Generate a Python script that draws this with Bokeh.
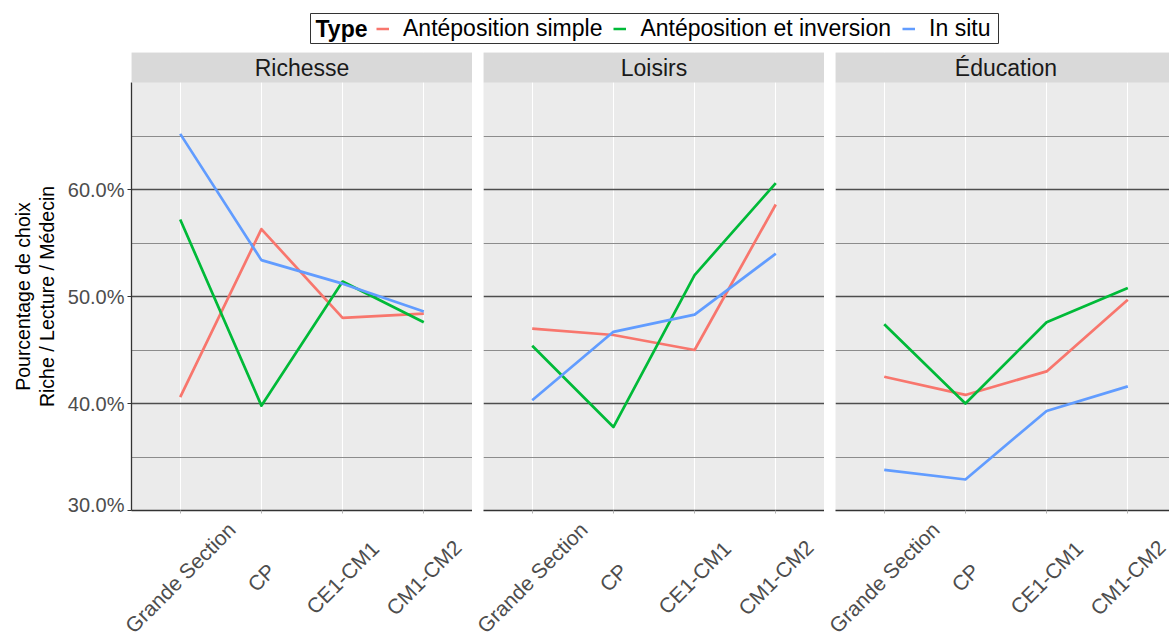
import math
from bokeh.plotting import figure
from bokeh.layouts import column, row
from bokeh.core.properties import value
from bokeh.models import (Range1d, FixedTicker, Grid, LinearAxis, PrintfTickFormatter,
                          BoxAnnotation, Label, Legend, LegendItem)
from bokeh.embed import file_html
from bokeh.resources import INLINE

# ---------------- data ----------------
categories = ["Grande Section", "CP", "CE1-CM1", "CM1-CM2"]
panels = ["Richesse", "Loisirs", "Éducation"]
series = ["Antéposition simple", "Antéposition et inversion", "In situ"]
colors = ["#F8766D", "#00BA38", "#619CFF"]

richesse_simple = [40.6, 56.3, 48.0, 48.4]
richesse_inversion = [57.2, 39.8, 51.4, 47.6]
richesse_insitu = [65.2, 53.4, 51.2, 48.6]

loisirs_simple = [47.0, 46.4, 45.0, 58.6]
loisirs_inversion = [45.4, 37.8, 52.0, 60.6]
loisirs_insitu = [40.3, 46.7, 48.3, 54.0]

education_simple = [42.5, 40.8, 43.0, 49.7]
education_inversion = [47.4, 40.0, 47.6, 50.8]
education_insitu = [33.8, 32.9, 39.3, 41.6]

y_ticks = [30, 40, 50, 60]
y_minor_ticks = [35, 45, 55, 65]
y_limits = (30, 70)
y_title_lines = ["Pourcentage de choix", "Riche / Lecture / Médecin"]
legend_title = "Type"

panel_data = [
    [richesse_simple, richesse_inversion, richesse_insitu],
    [loisirs_simple, loisirs_inversion, loisirs_insitu],
    [education_simple, education_inversion, education_insitu],
]

# ---------------- layout constants ----------------
FONT = "Liberation Sans"
PAGE_W = 1169
PANEL_H = 428           # data area height (30% -> 70%)
STRIP_H = 30            # facet strip height
FULL_W = 341            # full facet width
AXIS_B = 5              # space under panels for the axis ticks
LABEL_H = 124           # height of the rotated-label band
LABEL_DROP = 62         # centre of rotated labels below the band top
TITLE_W = 60            # band holding the y title
LINE_W = 2.7
x_pos = list(range(1, len(categories) + 1))
x_start = 1 - 0.6
x_full_end = len(categories) + 0.6
unit_px = FULL_W / (x_full_end - x_start)
frame_widths = [341, 341, 334]
borders_left = [71, 11, 11]
label_ext_left = [24, 15, 14]     # label band reaches this far left of the panel
label_trim_right = [4, 3, 0]      # and stops this much short of the panel's right edge
y_top = y_limits[1] + (y_limits[1] - y_limits[0]) * STRIP_H / PANEL_H
y_mid = (y_limits[0] + y_limits[1]) / 2


def fig(**kw):
    base = dict(toolbar_location=None, output_backend="svg",
                x_axis_location=None, y_axis_location=None,
                min_border_left=0, min_border_right=0, min_border_top=0, min_border_bottom=0,
                outline_line_color=None, background_fill_color="white",
                border_fill_color="white")
    base.update(kw)
    p = figure(**base)
    p.grid.visible = False
    return p

# ---------------- legend (framed box) ----------------
BOX_L, BOX_W, BOX_H = 310, 688, 30
leg = fig(frame_width=BOX_W, frame_height=BOX_H,
          x_range=Range1d(0, BOX_W), y_range=Range1d(0, BOX_H),
          min_border_left=BOX_L, min_border_right=PAGE_W - BOX_L - BOX_W,
          min_border_top=13, min_border_bottom=9,
          outline_line_color="#333333", outline_line_width=1)
leg.add_layout(Label(x=5, y=BOX_H / 2, text=legend_title, text_baseline="middle",
                     text_align="left", text_font=FONT, text_font_size="23px",
                     text_font_style="bold", text_color="black"))
items = []
for s, c in zip(series, colors):
    r = leg.line(x=[float("nan")], y=[float("nan")], line_color=c, line_width=LINE_W)
    items.append(LegendItem(label=s, renderers=[r]))
legend = Legend(items=items, orientation="horizontal", location="left",
                label_text_font=FONT, label_text_font_size="23px", label_text_color="black",
                label_standoff=14, glyph_width=13, glyph_height=20, spacing=11,
                padding=0, margin=66, border_line_color=None,
                background_fill_alpha=0)
leg.add_layout(legend)

# ---------------- y title band ----------------
y_range_main = Range1d(y_limits[0], y_top)
tf = fig(frame_width=TITLE_W, frame_height=PANEL_H + STRIP_H, min_border_bottom=AXIS_B,
         x_range=Range1d(0, TITLE_W), y_range=y_range_main)
tf.text(x=[22, 46], y=[y_mid, y_mid], text=y_title_lines, angle=math.pi / 2,
        text_align="center", text_baseline="middle",
        text_font=value(FONT), text_font_size=value("19.5px"), text_color="black")

# ---------------- facet panels ----------------
figs = [tf]
label_figs = []
for i, (name, data) in enumerate(zip(panels, panel_data)):
    fw = frame_widths[i]
    x_end = x_start + fw / unit_px
    p = fig(frame_width=fw, frame_height=PANEL_H + STRIP_H,
            x_range=Range1d(x_start, x_end),
            y_range=y_range_main if i == 0 else Range1d(y_limits[0], y_top),
            min_border_left=borders_left[i], min_border_bottom=AXIS_B,
            background_fill_color="#EBEBEB")

    # grids
    p.add_layout(Grid(dimension=0, ticker=FixedTicker(ticks=x_pos, minor_ticks=[]),
                      grid_line_color="white", grid_line_width=1.1))
    p.add_layout(Grid(dimension=1, ticker=FixedTicker(ticks=y_ticks[1:], minor_ticks=y_minor_ticks),
                      grid_line_color="#4D4D4D", grid_line_width=1.3,
                      minor_grid_line_color="#8C8C8C", minor_grid_line_width=1.1))

    # x axis line + ticks (category labels drawn in the band below)
    xaxis = LinearAxis(ticker=FixedTicker(ticks=x_pos, minor_ticks=[]),
                       major_label_text_color=None, major_label_text_font_size="0px",
                       major_label_standoff=0,
                       major_tick_out=3, major_tick_in=0, minor_tick_out=0, minor_tick_in=0,
                       major_tick_line_color="#B3B3B3",
                       axis_line_color="#333333", axis_line_width=1.3)
    p.add_layout(xaxis, "below")

    if i == 0:
        yaxis = LinearAxis(ticker=FixedTicker(ticks=y_ticks, minor_ticks=[]),
                           formatter=PrintfTickFormatter(format="%.1f%%"),
                           bounds=y_limits,
                           major_label_text_font=FONT, major_label_text_font_size="20px",
                           major_label_text_color="#4D4D4D", major_label_standoff=3,
                           major_tick_out=4, major_tick_in=0, minor_tick_out=0, minor_tick_in=0,
                           major_tick_line_color="#333333",
                           axis_line_color="#333333", axis_line_width=1.3)
        p.add_layout(yaxis, "left")

    # data lines
    for vals, c in zip(data, colors):
        p.line(x=x_pos, y=vals, line_color=c, line_width=LINE_W, line_join="round")

    # facet strip
    p.add_layout(BoxAnnotation(bottom=y_limits[1], fill_color="#D9D9D9", fill_alpha=1,
                               line_color=None))
    p.add_layout(Label(x=(x_start + x_full_end) / 2, y=y_limits[1], y_offset=STRIP_H / 2,
                       text=name, text_align="center", text_baseline="middle",
                       text_font=FONT, text_font_size="23px", text_color="#1A1A1A"))
    figs.append(p)

    # band of rotated category labels, on the same x scale as its panel
    el, tr = label_ext_left[i], label_trim_right[i]
    lf = fig(frame_width=fw + el - tr, frame_height=LABEL_H,
             x_range=Range1d(x_start - el / unit_px, x_end - tr / unit_px),
             y_range=Range1d(-LABEL_H, 0),
             min_border_left=(TITLE_W + borders_left[0] - el) if i == 0 else 0)
    lf.text(x=x_pos, y=[-LABEL_DROP] * len(x_pos), text=categories, angle=math.pi / 4,
            text_align="center", text_baseline="middle",
            text_font=value(FONT), text_font_size=value("21px"), text_color="#4D4D4D")
    label_figs.append(lf)

layout = column(leg, row(*figs), row(*label_figs))
open("out.html", "w").write(file_html(layout, INLINE))
